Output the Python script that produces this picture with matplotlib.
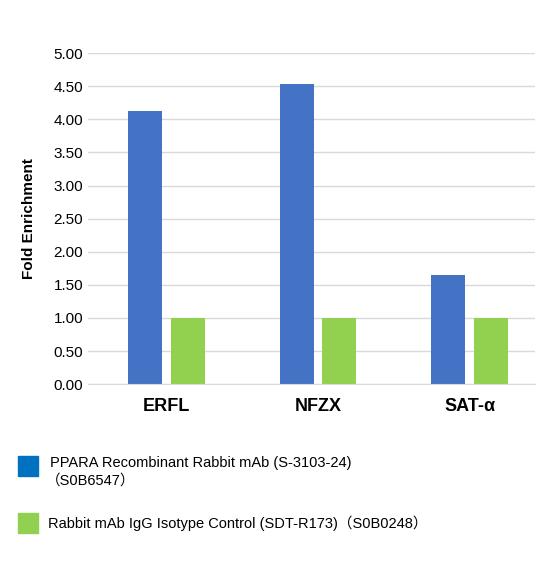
import matplotlib
matplotlib.use("Agg")
import matplotlib.pyplot as plt
import numpy as np
from matplotlib.patches import Rectangle

categories = ["ERFL", "NFZX", "SAT-α"]
ppara = [4.12, 4.53, 1.65]
igg = [1.0, 1.0, 1.0]
yticks = [0, 0.5, 1, 1.5, 2, 2.5, 3, 3.5, 4, 4.5, 5]

plt.rcParams['font.family'] = ['Liberation Sans', 'Noto Sans CJK SC', 'DejaVu Sans']
fig = plt.figure(figsize=(5.41, 5.65), dpi=100)
ax = fig.add_axes([0.163, 0.320, 0.826, 0.586])
x = np.arange(len(categories))
w = 0.225
ax.bar(x - 0.14, ppara, w, color='#4472C4')
ax.bar(x + 0.14, igg, w, color='#92D050')
ax.set_xlim(-0.518, 2.432)
ax.set_ylim(0, 5)
ax.set_yticks(yticks)
ax.set_yticklabels([f"{v:.2f}" for v in yticks], fontsize=11)
ax.set_xticks(x)
ax.set_xticklabels(categories, fontsize=13, fontweight='bold')
ax.tick_params(length=0)
ax.tick_params(axis='x', pad=10)
ax.grid(axis='y', color='#d9d9d9', lw=1)
ax.set_axisbelow(True)
for s in ['top', 'right', 'left']:
    ax.spines[s].set_visible(False)
ax.spines['bottom'].set_color('#d9d9d9')
ax.set_ylabel("Fold Enrichment", fontsize=11, fontweight='bold')
ax.yaxis.set_label_coords(-0.117, 0.5)

fig.patches.append(Rectangle((18/541, 1-476/565), 20/541, 20/565, transform=fig.transFigure, color='#0070C0'))
fig.patches.append(Rectangle((18/541, 1-533/565), 20/541, 20/565, transform=fig.transFigure, color='#92D050'))
fig.text(50/541, 1-463/565, "PPARA Recombinant Rabbit mAb (S-3103-24)", fontsize=10.5, va='center')
fig.text(46/541, 1-481/565, "（S0B6547）", fontsize=10.5, va='center')
fig.text(48/541, 1-523/565, "Rabbit mAb IgG Isotype Control (SDT-R173)（S0B0248）", fontsize=10.5, va='center')
fig.savefig("out.png", dpi=100)
